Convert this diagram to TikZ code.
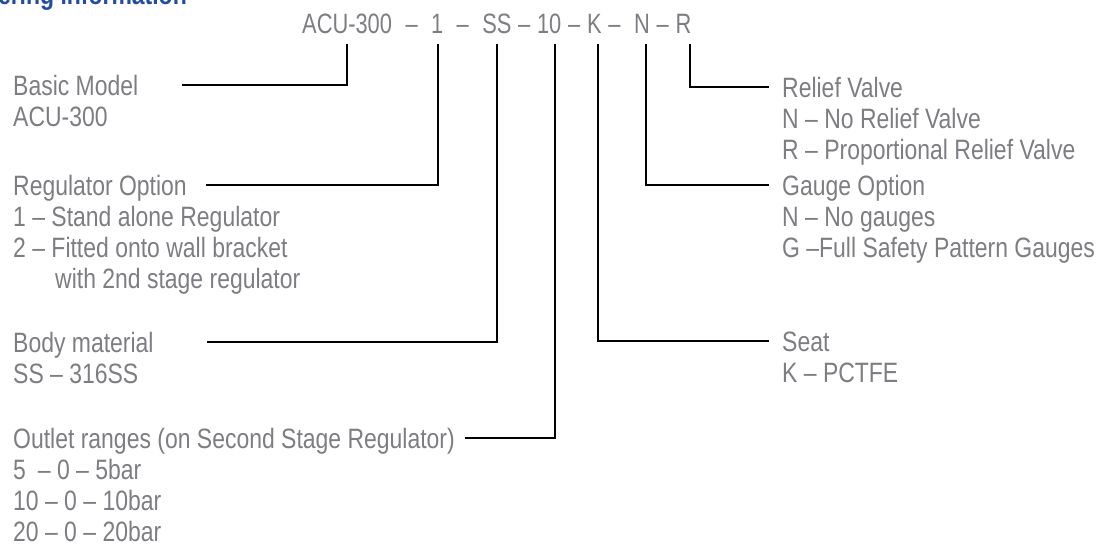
\documentclass[tikz,border=0pt]{standalone}
\usepackage{fontspec}
\setmainfont[FakeStretch=0.82]{Liberation Sans}
\newfontfamily\codefont[FakeStretch=0.78]{Liberation Sans}
\definecolor{txtgray}{RGB}{125,125,130}
\definecolor{headblue}{RGB}{35,75,160}
\begin{document}
\begin{tikzpicture}[x=1pt,y=-1pt,
  lbl/.style={anchor=base west,inner sep=0pt,text=txtgray,font=\fontsize{28}{31}\selectfont},
  tok/.style={anchor=base west,inner sep=0pt,text=txtgray,font=\codefont\fontsize{28}{31}\selectfont},
  conn/.style={draw=black,line width=2pt,line cap=rect}]
\useasboundingbox (0,0) rectangle (1098,546);
\begin{scope}
\clip (0,0) rectangle (1098,546);
\node[anchor=base east,inner sep=0pt,text=headblue,font=\bfseries\fontsize{28}{31}\selectfont] (head) at (187,5) {Ordering information};
\end{scope}
% code line
\node[tok] (c1) at (302,33) {ACU-300};
\node[tok] (c2) at (405.3,33) {–};
\node[tok] (c3) at (430.9,33) {1};
\node[tok] (c4) at (456.5,33) {–};
\node[tok] (c5) at (482.2,33) {SS};
\node[tok] (c6) at (518,33) {–};
\node[tok] (c7) at (536.9,33) {10};
\node[tok] (c8) at (568,33) {–};
\node[tok] (c9) at (586.9,33) {K};
\node[tok] (c10) at (608.2,33) {–};
\node[tok] (c11) at (633.9,33) {N};
\node[tok] (c12) at (656.4,33) {–};
\node[tok] (c13) at (675.3,33) {R};
% left labels
\node[lbl] (b1) at (13,95.5) {Basic Model};
\node[lbl] (b2) at (13,126.5) {ACU-300};
\node[lbl] (r1) at (13,195.5) {Regulator Option};
\node[lbl] (r2) at (13,226.5) {1 – Stand alone Regulator};
\node[lbl] (r3) at (13,257.5) {2 – Fitted onto wall bracket};
\node[lbl] (r4) at (55,288.5) {with 2nd stage regulator};
\node[lbl] (m1) at (13,352.5) {Body material};
\node[lbl] (m2) at (13,383.5) {SS – 316SS};
\node[lbl] (o1) at (13,448.5) {Outlet ranges (on Second Stage Regulator)};
\node[lbl] (o2) at (13,479.5) {5\hspace{12pt}– 0 – 5bar};
\node[lbl] (o3) at (13,510.5) {10 – 0 – 10bar};
\node[lbl] (o4) at (13,541.5) {20 – 0 – 20bar};
% right labels
\node[lbl] (v1) at (782,97.5) {Relief Valve};
\node[lbl] (v2) at (782,128.5) {N – No Relief Valve};
\node[lbl] (v3) at (782,159.5) {R – Proportional Relief Valve};
\node[lbl] (g1) at (782,195.5) {Gauge Option};
\node[lbl] (g2) at (782,226.5) {N – No gauges};
\node[lbl] (g3) at (782,257.5) {G –Full Safety Pattern Gauges};
\node[lbl] (s1) at (782,351.5) {Seat};
\node[lbl] (s2) at (782,382.5) {K – PCTFE};
% connector coordinates
\coordinate (tA) at (347,45);  \coordinate (eA) at (183,85);
\coordinate (tB) at (438,45);  \coordinate (eB) at (207,185);
\coordinate (tC) at (497,45);  \coordinate (eC) at (208,342);
\coordinate (tD) at (555,45);  \coordinate (eD) at (466,438);
\coordinate (tE) at (598,45);  \coordinate (eE) at (768,341);
\coordinate (tF) at (646,45);  \coordinate (eF) at (768,185);
\coordinate (tG) at (690,45);  \coordinate (eG) at (768,87);
\draw[conn] (tA) |- (eA);
\draw[conn] (tB) |- (eB);
\draw[conn] (tC) |- (eC);
\draw[conn] (tD) |- (eD);
\draw[conn] (tE) |- (eE);
\draw[conn] (tF) |- (eF);
\draw[conn] (tG) |- (eG);
\end{tikzpicture}
\end{document}
